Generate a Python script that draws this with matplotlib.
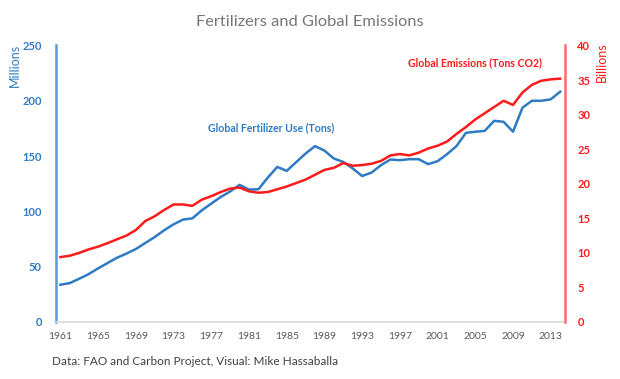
import numpy as np
import matplotlib
matplotlib.use("Agg")
import matplotlib.pyplot as plt

plt.rcParams['font.family'] = ['Lato', 'DejaVu Sans']

years = list(range(1961, 2015))

# global fertilizer use, millions of tons
fertilizer = [33.7, 35.2, 39.1, 43.3, 48.5, 53.3, 58.1, 61.8, 66.0, 71.4,
              76.8, 82.9, 88.3, 92.6, 93.7, 101.0, 107.0, 113.0, 118.0, 124.0,
              119.7, 120.0, 130.6, 140.2, 136.6, 144.5, 152.3, 159.0, 155.0, 147.8,
              144.7, 138.8, 132.0, 135.1, 141.8, 146.9, 146.3, 147.2, 147.2, 142.7,
              145.4, 151.7, 159.0, 171.0, 172.0, 172.8, 181.9, 181.0, 172.0, 193.7,
              200.0, 200.0, 201.3, 208.2]

# global emissions, billions of tons CO2
emissions = [9.39, 9.59, 10.0, 10.5, 10.9, 11.4, 11.96, 12.5, 13.3, 14.6,
             15.3, 16.2, 17.0, 17.0, 16.8, 17.7, 18.2, 18.8, 19.3, 19.45,
             18.9, 18.7, 18.8, 19.2, 19.6, 20.1, 20.6, 21.3, 22.0, 22.3,
             23.0, 22.6, 22.7, 22.9, 23.3, 24.1, 24.3, 24.1, 24.5, 25.1,
             25.5, 26.1, 27.2, 28.2, 29.3, 30.2, 31.1, 32.0, 31.4, 33.2,
             34.3, 34.9, 35.1, 35.2]

blue = '#2E7BC4'
red = '#FF1A1A'
grey = '#595959'

x = np.arange(len(years))

fig = plt.figure(figsize=(6.2, 3.79), dpi=100)
ax = fig.add_axes([0.0898, 0.1504, 0.8213, 0.7296])
ax2 = ax.twinx()

ax.plot(x, fertilizer, color=blue, lw=1.8, zorder=3)
ax2.plot(x, emissions, color=red, lw=1.8, zorder=3)

ax.set_xlim(-0.5, len(years) - 0.5)
ax.set_ylim(0, 250)
ax2.set_ylim(0, 40)
ax.set_yticks(np.arange(0, 251, 50))
ax2.set_yticks(np.arange(0, 41, 5))
ax.set_xticks(x[::4])
ax.set_xticklabels([str(y) for y in years[::4]])

for a in (ax, ax2):
    a.spines['top'].set_visible(False)
    a.tick_params(length=0)
ax.spines['right'].set_visible(False)
ax.spines['left'].set_color('#5B9BD5')
ax.spines['left'].set_linewidth(1.8)
ax.spines['bottom'].set_color('#D9D9D9')
ax.spines['bottom'].set_linewidth(1.2)
ax2.spines['left'].set_visible(False)
ax2.spines['bottom'].set_visible(False)
ax2.spines['right'].set_color('#FF6B6B')
ax2.spines['right'].set_linewidth(1.8)

ax.tick_params(axis='x', colors=grey, labelsize=7.5, pad=7)
ax.tick_params(axis='y', colors=blue, labelsize=8, pad=10)
ax2.tick_params(axis='y', colors=red, labelsize=8, pad=9)
for t in ax.get_yticklabels():
    t.set_fontweight('bold')
for t in ax2.get_yticklabels():
    t.set_fontweight('bold')

fig.text(0.024, 0.828, 'Millions', rotation=90, color=blue, fontsize=9,
         ha='center', va='center')
fig.text(0.971, 0.836, 'Billions', rotation=90, color=red, fontsize=9,
         ha='center', va='center')

ax.text(0.4375, 0.664, 'Global Fertilizer Use (Tons)', transform=fig.transFigure,
        color=blue, fontsize=7.6, fontweight='bold', ha='center', va='center')
ax.text(0.766, 0.834, 'Global Emissions (Tons CO2)', transform=fig.transFigure,
        color=red, fontsize=7.6, fontweight='bold', ha='center', va='center')

fig.text(0.5, 0.942, 'Fertilizers and Global Emissions', color='#767676',
         fontsize=11.8, ha='center', va='center')
fig.text(0.084, 0.045, 'Data: FAO and Carbon Project, Visual: Mike Hassaballa',
         color='#404040', fontsize=8.5, ha='left', va='center')

fig.savefig('out.png', dpi=100)
